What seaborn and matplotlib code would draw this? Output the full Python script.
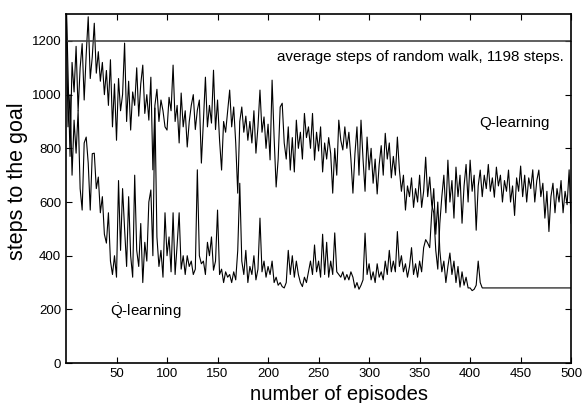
import matplotlib
matplotlib.use("Agg")
import matplotlib.pyplot as plt
import numpy as np
import pandas as pd
import seaborn as sns

# Q-learning, one value every 2 episodes (0, 2, ..., 498) + final at 500
q_steps = [
    1400, 1080, 770, 1120, 1010, 1180, 940, 1100, 1190, 980,
    1150, 1290, 1060, 1140, 1266, 1080, 1160, 1050, 1120, 1000,
    1090, 960, 1130, 880, 1040, 830, 1060, 940, 1000, 1192,
    900, 1050, 868, 1010, 960, 1100, 920, 1040, 1110, 930,
    1000, 905, 1065, 720, 960, 1020, 900, 980, 940, 880,
    868, 990, 940, 1110, 900, 960, 820, 1006, 880, 940,
    805, 900, 960, 1000, 870, 942, 980, 745, 900, 1065,
    880, 960, 894, 1091, 870, 980, 830, 719, 900, 860,
    940, 1017, 880, 954, 820, 633, 900, 954, 860, 920,
    830, 900, 820, 940, 782, 880, 1017, 860, 917, 800,
    890, 757, 1054, 840, 656, 760, 954, 968, 820, 760,
    880, 719, 840, 712, 905, 800, 860, 760, 930, 840,
    880, 800, 930, 756, 860, 790, 880, 712, 820, 760,
    840, 780, 633, 800, 700, 905, 830, 794, 880, 800,
    860, 760, 633, 780, 880, 700, 905, 760, 640, 842,
    720, 800, 670, 760, 630, 740, 810, 700, 856, 760,
    820, 690, 770, 700, 842, 719, 640, 700, 570, 660,
    620, 690, 580, 650, 600, 700, 580, 640, 767, 620,
    693, 590, 560, 420, 350, 520, 620, 700, 560, 756,
    600, 680, 540, 730, 620, 700, 521, 660, 740, 600,
    756, 640, 700, 495, 660, 719, 620, 700, 650, 740,
    640, 690, 618, 730, 660, 700, 600, 680, 640, 719,
    600, 660, 550, 690, 640, 734, 620, 700, 600, 690,
    650, 720, 600, 680, 719, 620, 670, 540, 640, 490,
    620, 670, 560, 650, 600, 680, 560, 640, 590, 720,
    520,
]
q_episodes = list(range(0, 500, 2)) + [500]

# Q-dot-learning, every 2 episodes up to 412, then flat until 500
qdot_steps = [
    1400, 880, 1000, 700, 905, 782, 940, 650, 570, 820,
    842, 745, 570, 780, 782, 650, 693, 560, 620, 480,
    447, 560, 380, 330, 400, 320, 680, 420, 650, 500,
    360, 620, 400, 320, 700, 420, 360, 520, 300, 450,
    380, 600, 645, 400, 950, 470, 360, 420, 320, 560,
    400, 470, 340, 560, 330, 440, 560, 350, 400, 330,
    400, 360, 380, 330, 350, 720, 400, 370, 380, 330,
    450, 400, 470, 346, 380, 570, 330, 350, 300, 340,
    320, 330, 300, 340, 310, 420, 670, 380, 330, 420,
    300, 360, 330, 400, 310, 350, 540, 340, 380, 320,
    360, 330, 380, 300, 320, 290, 300, 285, 280, 300,
    420, 330, 400, 320, 380, 330, 300, 285, 320, 300,
    340, 380, 330, 440, 340, 380, 320, 480, 330, 450,
    320, 380, 330, 485, 340, 330, 320, 340, 310, 330,
    310, 340, 320, 280, 300, 275, 290, 310, 484, 330,
    370, 310, 340, 300, 370, 320, 340, 310, 380, 330,
    420, 340, 380, 340, 490, 360, 400, 340, 370, 320,
    360, 430, 330, 370, 320, 380, 340, 430, 460, 447,
    430, 560, 650, 480, 600, 420, 340, 380, 300, 360,
    410, 330, 380, 300, 360, 283, 340, 290, 320, 280,
    280, 270, 275, 290, 380, 300, 280,
    280, 280,
]
qdot_episodes = list(range(0, 414, 2)) + [413, 500]

RANDOM_WALK = 1198

df = pd.concat([
    pd.DataFrame({"episode": q_episodes, "steps": q_steps, "method": "Q"}),
    pd.DataFrame({"episode": qdot_episodes, "steps": qdot_steps, "method": "Qdot"}),
])

sns.set_style("ticks", {"axes.edgecolor": "black", "text.color": "black",
                        "axes.labelcolor": "black", "xtick.color": "black",
                        "ytick.color": "black"})
plt.rcParams["font.family"] = ["Liberation Sans", "DejaVu Sans"]
plt.rcParams["mathtext.fontset"] = "custom"
plt.rcParams["mathtext.rm"] = "Liberation Sans"

fig = plt.figure(figsize=(5.84, 4.03), dpi=100)
ax = fig.add_axes([0.113, 0.099, 0.865, 0.866])

sns.lineplot(data=df, x="episode", y="steps", hue="method",
             palette={"Q": "black", "Qdot": "black"}, estimator=None,
             linewidth=0.8, legend=False, ax=ax)
ax.axhline(RANDOM_WALK, color="#444444", linewidth=1.2)

ax.set_xlim(0, 500)
ax.set_ylim(0, 1300)
ax.set_xticks(np.arange(50, 501, 50))
ax.set_yticks(np.arange(0, 1201, 200))
ax.tick_params(direction="in", top=True, right=True, length=4,
               labelsize=9.5, width=0.8)
for s in ax.spines.values():
    s.set_linewidth(1.2)

ax.set_xlabel("number of episodes", fontsize=14.6)
ax.xaxis.set_label_coords(0.54, -0.062)
ax.set_ylabel("steps to the goal", fontsize=15.5)
ax.yaxis.set_label_coords(-0.075, 0.52)

ax.text(493, 1140, "average steps of random walk, 1198 steps.",
        ha="right", va="center", fontsize=10.9)
ax.text(444, 893, "Q-learning", ha="center", va="center", fontsize=10.9)
ax.text(44, 195, r"$\dot{\mathrm{Q}}$-learning", ha="left", va="center",
        fontsize=10.9)

fig.savefig("out.png", dpi=100)
